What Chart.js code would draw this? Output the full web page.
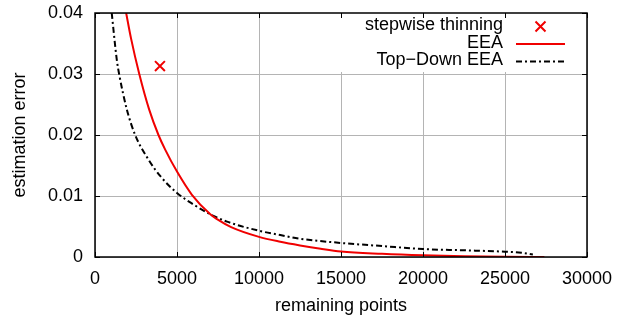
<!DOCTYPE html>
<html>
<head>
<meta charset="utf-8">
<script src="https://cdn.jsdelivr.net/npm/chart.js@4"></script>
<style>
  html, body { margin: 0; padding: 0; background: #fff; }
  #wrap { width: 627px; height: 320px; }
</style>
</head>
<body>
<div id="wrap"><canvas id="chart" width="627" height="320"></canvas></div>
<script>
// values
const stepX = [3960]
const stepY = [0.0313]

const eeaX = [1900, 2200, 2700, 3300, 3870, 4280, 5000, 5910, 7030, 7440, 8300, 10000, 11300, 12500, 13760, 15000, 17500, 20000, 22500, 25000, 27400]
const eeaY = [0.0400, 0.0358, 0.0300, 0.0242, 0.0200, 0.0176, 0.0140, 0.0102, 0.0070, 0.0062, 0.0049, 0.0033, 0.0025, 0.0019, 0.00135, 0.0009, 0.00052, 0.00027, 0.00012, 0.00004, 0.0]

const topX = [1020, 1330, 1470, 1940, 2450, 3300, 4000, 5000, 6010, 7030, 8050, 10000, 11300, 12230, 15000, 17500, 20000, 22500, 25000, 26000, 26700]
const topY = [0.0400, 0.0323, 0.0300, 0.0242, 0.0200, 0.0158, 0.0132, 0.0105, 0.0086, 0.0070, 0.0058, 0.0043, 0.0036, 0.0031, 0.0023, 0.0018, 0.0013, 0.0011, 0.00087, 0.0007, 0.0004]

const xTicks = [0, 5000, 10000, 15000, 20000, 25000, 30000]
const yTicks = [0, 0.01, 0.02, 0.03, 0.04]

const labels = ['stepwise thinning', 'EEA', 'Top\u2212Down EEA']

const FONT = '"Liberation Sans", Arial, Helvetica, sans-serif'
const RED = '#f00000'
const DASHDOT = [6, 3, 2, 3]

function toPoints(xs, ys) {
    return xs.map((x, i) => ({ x: x, y: ys[i] }))
}

// gnuplot style frame, inner tick marks and key box
const gnuplotBits = {
    id: 'gnuplotBits',
    afterDatasetsDraw(chart) {
        const ctx = chart.ctx
        const a = chart.chartArea
        const xs = chart.scales.x, ys = chart.scales.y
        ctx.save()

        // key
        ctx.fillStyle = '#fff'
        ctx.fillRect(a.left + 205, a.top, a.right - a.left - 205, 59)
        ctx.font = '18px ' + FONT
        ctx.fillStyle = '#000'
        ctx.textAlign = 'right'
        ctx.textBaseline = 'middle'
        const textRight = a.right - 84
        const sx0 = a.right - 71, sx1 = a.right - 22
        const rows = [a.top + 13.5, a.top + 31, a.top + 48.5]
        labels.forEach((t, i) => ctx.fillText(t, textRight, rows[i] - 1))

        // key samples
        const cx = (sx0 + sx1) / 2
        ctx.strokeStyle = RED
        ctx.lineWidth = 2
        ctx.beginPath()
        ctx.moveTo(cx - 5, rows[0] - 5); ctx.lineTo(cx + 5, rows[0] + 5)
        ctx.moveTo(cx + 5, rows[0] - 5); ctx.lineTo(cx - 5, rows[0] + 5)
        ctx.stroke()
        ctx.beginPath()
        ctx.moveTo(sx0, rows[1]); ctx.lineTo(sx1, rows[1])
        ctx.stroke()
        ctx.strokeStyle = '#000'
        ctx.setLineDash(DASHDOT)
        ctx.beginPath()
        ctx.moveTo(sx0, rows[2]); ctx.lineTo(sx1, rows[2])
        ctx.stroke()
        ctx.setLineDash([])

        // inner ticks on all four sides
        ctx.strokeStyle = '#000'
        ctx.lineWidth = 1
        ctx.beginPath()
        xTicks.forEach(v => {
            const px = Math.round(xs.getPixelForValue(v)) + 0.5
            ctx.moveTo(px, a.bottom); ctx.lineTo(px, a.bottom - 5)
            ctx.moveTo(px, a.top); ctx.lineTo(px, a.top + 5)
        })
        yTicks.forEach(v => {
            const py = Math.round(ys.getPixelForValue(v)) + 0.5
            ctx.moveTo(a.left, py); ctx.lineTo(a.left + 5, py)
            ctx.moveTo(a.right, py); ctx.lineTo(a.right - 5, py)
        })
        ctx.stroke()

        // frame
        ctx.lineWidth = 1.5
        ctx.strokeRect(a.left, a.top, a.right - a.left, a.bottom - a.top)
        ctx.restore()
    }
}

Chart.defaults.font.family = FONT
Chart.defaults.font.size = 18
Chart.defaults.color = '#000'

new Chart(document.getElementById('chart').getContext('2d'), {
    type: 'scatter',
    data: {
        datasets: [
            {
                label: labels[0],
                data: toPoints(stepX, stepY),
                showLine: false,
                pointStyle: 'crossRot',
                pointRadius: 7,
                pointBorderWidth: 2,
                borderColor: RED,
                backgroundColor: RED
            },
            {
                label: labels[1],
                data: toPoints(eeaX, eeaY),
                showLine: true,
                borderColor: RED,
                borderWidth: 2,
                pointRadius: 0,
                cubicInterpolationMode: 'monotone'
            },
            {
                label: labels[2],
                data: toPoints(topX, topY),
                showLine: true,
                borderColor: '#000',
                borderWidth: 2,
                borderDash: DASHDOT,
                pointRadius: 0,
                cubicInterpolationMode: 'monotone'
            }
        ]
    },
    options: {
        responsive: false,
        animation: false,
        layout: { padding: { top: 13, right: 40, left: 0, bottom: 0 } },
        plugins: { legend: { display: false }, tooltip: { enabled: false } },
        scales: {
            x: {
                type: 'linear',
                min: 0,
                max: 30000,
                afterFit(scale) {
                    scale.height = 63
                    scale.paddingLeft = 0
                    scale.paddingRight = 0
                },
                afterBuildTicks(scale) { scale.ticks = xTicks.map(v => ({ value: v })) },
                ticks: { padding: 11, maxRotation: 0, callback: v => String(v) },
                grid: { color: '#b4b4b4', lineWidth: 1, drawTicks: false },
                border: { display: false },
                title: { display: true, text: 'remaining points', padding: { top: 0, bottom: 3 } }
            },
            y: {
                type: 'linear',
                min: 0,
                max: 0.04,
                afterFit(scale) {
                    scale.width = 95
                    scale.paddingTop = 0
                    scale.paddingBottom = 0
                },
                afterBuildTicks(scale) { scale.ticks = yTicks.map(v => ({ value: v })) },
                ticks: { padding: 12, callback: v => v === 0 ? '0' : v.toFixed(2) },
                grid: { color: '#b4b4b4', lineWidth: 1, drawTicks: false },
                border: { display: false },
                title: { display: true, text: 'estimation error', padding: { top: 9, bottom: 0 } }
            }
        }
    },
    plugins: [gnuplotBits]
})
</script>
</body>
</html>
